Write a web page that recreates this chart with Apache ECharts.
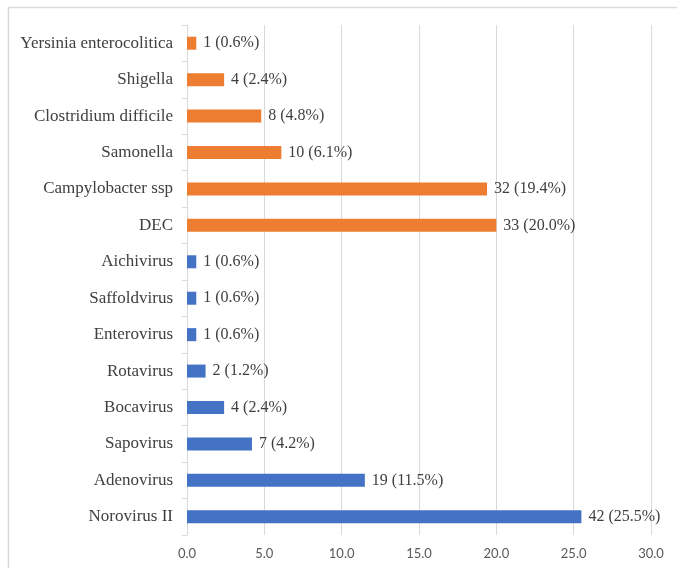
<!DOCTYPE html>
<html>
<head>
<meta charset="utf-8">
<script src="https://cdn.jsdelivr.net/npm/echarts@6/dist/echarts.min.js"></script>
<style>
  html, body { margin: 0; padding: 0; background: #fff; }
  #chart { width: 677px; height: 568px; }
</style>
</head>
<body>
<div id="chart"></div>
<script>
// categories, bottom to top as drawn
var categories = ['Norovirus II', 'Adenovirus', 'Sapovirus', 'Bocavirus', 'Rotavirus', 'Enterovirus',
  'Saffoldvirus', 'Aichivirus', 'DEC', 'Campylobacter ssp', 'Samonella', 'Clostridium difficile',
  'Shigella', 'Yersinia enterocolitica'];
// percentages (bar length) and counts (shown in the label)
var percents = [25.5, 11.5, 4.2, 2.4, 1.2, 0.6, 0.6, 0.6, 20.0, 19.4, 6.1, 4.8, 2.4, 0.6];
var counts = [42, 19, 7, 4, 2, 1, 1, 1, 33, 32, 10, 8, 4, 1];
// 0 = virus (blue), 1 = bacteria (orange)
var groups = [0, 0, 0, 0, 0, 0, 0, 0, 1, 1, 1, 1, 1, 1];
var groupColors = ['#4472C4', '#ED7D31'];

var chart = echarts.init(document.getElementById('chart'));

var barData = percents.map(function (v, i) {
  return { value: v, itemStyle: { color: groupColors[groups[i]] } };
});

var option = {
  animation: false,
  backgroundColor: '#fff',
  grid: { left: 187, right: 26, top: 25, bottom: 33, containLabel: false },
  graphic: [
    // outer frame, only left and top visible in the picture
    { type: 'line', shape: { x1: 8.5, y1: 7.5, x2: 8.5, y2: 568 }, style: { stroke: '#d9d9d9', lineWidth: 1.5 } },
    { type: 'line', shape: { x1: 8.5, y1: 7.5, x2: 677, y2: 7.5 }, style: { stroke: '#d9d9d9', lineWidth: 1.5 } }
  ],
  xAxis: {
    type: 'value',
    min: 0,
    max: 30,
    interval: 5,
    axisLine: { show: false },
    axisTick: { show: false },
    splitLine: { lineStyle: { color: '#d9d9d9', width: 1 } },
    axisLabel: {
      margin: 12,
      color: '#595959',
      fontFamily: 'Lato',
      fontSize: 13,
      formatter: function (v) { return v.toFixed(1); }
    }
  },
  yAxis: {
    type: 'category',
    data: categories,
    boundaryGap: true,
    axisLine: { lineStyle: { color: '#d9d9d9', width: 1 } },
    axisTick: { show: true, length: 5, lineStyle: { color: '#d9d9d9' } },
    axisLabel: {
      margin: 14,
      color: '#404040',
      fontFamily: 'Liberation Serif',
      fontSize: 17
    }
  },
  series: [{
    type: 'bar',
    data: barData,
    barWidth: 13,
    label: {
      show: true,
      position: 'right',
      distance: 7,
      color: '#404040',
      fontFamily: 'Liberation Serif',
      fontSize: 16,
      formatter: function (p) {
        return counts[p.dataIndex] + ' (' + percents[p.dataIndex].toFixed(1) + '%)';
      }
    }
  }]
};

chart.setOption(option);
</script>
</body>
</html>
